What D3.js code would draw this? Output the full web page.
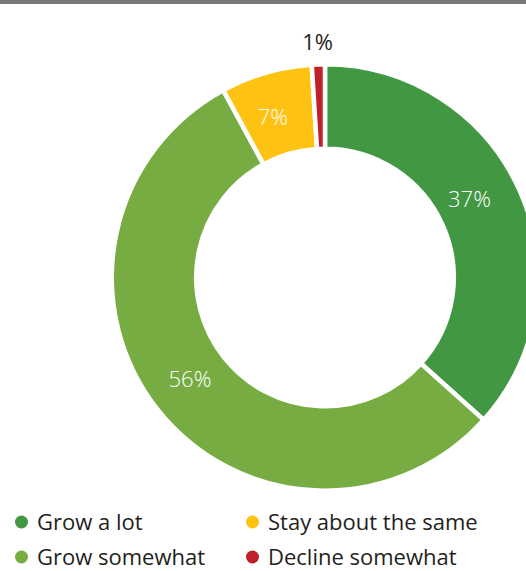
<!DOCTYPE html>
<html>
<head>
<meta charset="utf-8">
<script src="https://cdn.jsdelivr.net/npm/d3@7"></script>
<style>
  html, body { margin: 0; padding: 0; background: #fff; }
  svg { display: block; }
</style>
</head>
<body>
<div id="chart"></div>
<script>
// Expected change in outlook, share of respondents
const categories = ["Grow a lot", "Grow somewhat", "Stay about the same", "Decline somewhat"];
const values = [37, 56, 7, 1];
const valueLabels = ["37%", "56%", "7%", "1%"];
const colors = ["#419742", "#77ac42", "#fec312", "#c1202a"];

const width = 526, height = 571;
const cx = 325, cy = 277.5;
const outerR = 213.2, innerR = 128.8;
const gap = 4.5;

const svg = d3.select("#chart").append("svg")
  .attr("width", width)
  .attr("height", height);

// thin rule across the top
svg.append("rect")
  .attr("x", 0).attr("y", 0)
  .attr("width", width).attr("height", 4)
  .attr("fill", "#76777a");

const rows = categories.map((c, i) => ({ category: c, value: values[i], label: valueLabels[i], color: colors[i] }));

const pie = d3.pie().sort(null).value(d => d.value);
const arcs = pie(rows);

const arc = d3.arc().innerRadius(innerR).outerRadius(outerR);
const labelArc = d3.arc().innerRadius(167).outerRadius(167);
const outsideArc = d3.arc().innerRadius(237).outerRadius(237);

const g = svg.append("g").attr("transform", `translate(${cx},${cy})`);

g.selectAll("path.slice")
  .data(arcs)
  .join("path")
  .attr("class", "slice")
  .attr("d", arc)
  .attr("fill", d => d.data.color)
  .attr("stroke", "#fff")
  .attr("stroke-width", gap)
  .attr("stroke-linejoin", "miter");

// label placement tweaks (pixels) relative to the slice centroid
const nudge = { "Grow a lot": [-8, -11], "Grow somewhat": [-4, -3], "Stay about the same": [-6, -1], "Decline somewhat": [0, 0] };

g.selectAll("text.value")
  .data(arcs)
  .join("text")
  .attr("class", "value")
  .each(function (d) {
    const small = (d.endAngle - d.startAngle) < 0.1;
    const p = small ? outsideArc.centroid(d) : labelArc.centroid(d);
    const n = nudge[d.data.category];
    d3.select(this)
      .attr("x", p[0] + n[0])
      .attr("y", p[1] + n[1])
      .attr("fill", small ? "#231f20" : "#ffffff")
      .attr("font-weight", small ? 400 : 300);
  })
  .attr("text-anchor", "middle")
  .attr("dominant-baseline", "central")
  .attr("font-family", "'Open Sans', sans-serif")
  .attr("font-size", 22)
  .text(d => d.data.label);

// legend: two columns, two rows, filled column by column
const legendCols = [21.5, 252.5];
const legendRows = [522, 557];
const legend = svg.append("g");
const items = legend.selectAll("g.item")
  .data(rows)
  .join("g")
  .attr("class", "item")
  .attr("transform", (d, i) => {
    const col = i < 2 ? 0 : 1;
    const row = i % 2;
    return `translate(${legendCols[col]},${legendRows[row]})`;
  });

items.append("circle")
  .attr("r", 6.5)
  .attr("fill", d => d.color);

items.append("text")
  .attr("x", 15.5)
  .attr("y", 8)
  .attr("font-family", "'Open Sans', sans-serif")
  .attr("font-size", 22)
  .attr("fill", "#231f20")
  .text(d => d.category);
</script>
</body>
</html>
